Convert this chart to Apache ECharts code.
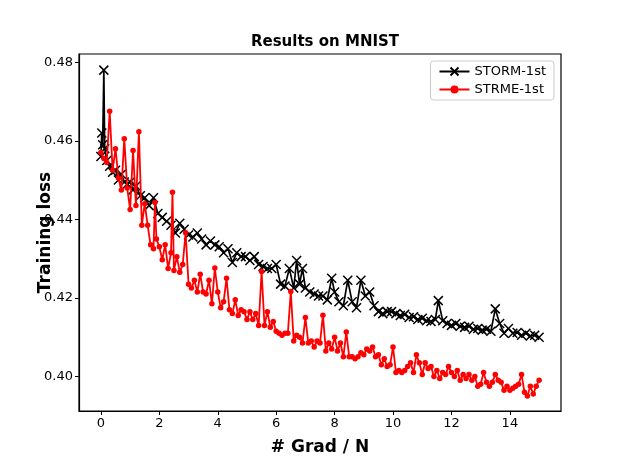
<!DOCTYPE html>
<html>
<head>
<meta charset="utf-8">
<script src="https://cdn.jsdelivr.net/npm/echarts@6/dist/echarts.min.js"></script>
<style>html,body{margin:0;padding:0;background:#fff;}#c{width:623px;height:464px;}</style>
</head>
<body>
<div id="c"></div>
<script>
const xTicks = [0, 2, 4, 6, 8, 10, 12, 14];
const yTicks = [0.40, 0.42, 0.44, 0.46, 0.48];

const stormX = [0,0.03,0.06,0.1,0.13,0.2,0.3,0.4,0.5,0.6,0.7,0.8,0.9,1.0,1.1,1.2,1.35,1.5,1.65,1.8,1.95,2.1,2.25,2.4,2.55,2.7,2.85,3.0,3.15,3.3,3.45,3.6,3.75,3.9,4.05,4.2,4.35,4.5,4.65,4.8,4.95,5.1,5.25,5.4,5.55,5.7,5.85,6.0,6.15,6.3,6.45,6.6,6.7,6.8,6.9,7.0,7.15,7.3,7.45,7.6,7.75,7.9,8.0,8.15,8.3,8.45,8.6,8.75,8.9,9.05,9.2,9.35,9.5,9.65,9.8,9.95,10.1,10.25,10.4,10.55,10.7,10.85,11.0,11.15,11.3,11.45,11.55,11.7,11.85,12.0,12.15,12.3,12.45,12.6,12.75,12.9,13.05,13.2,13.35,13.5,13.65,13.8,13.95,14.1,14.25,14.4,14.55,14.7,14.85,15.0];
const stormY = [0.456,0.462,0.459,0.478,0.458,0.455,0.4535,0.452,0.4525,0.450,0.4515,0.4495,0.449,0.4495,0.4475,0.4485,0.446,0.4455,0.4435,0.4455,0.4415,0.4405,0.4395,0.4385,0.4365,0.439,0.4375,0.436,0.4355,0.4365,0.435,0.4335,0.4345,0.4335,0.433,0.4315,0.4325,0.429,0.4315,0.4305,0.4305,0.4295,0.4305,0.4285,0.428,0.4275,0.4275,0.4285,0.4235,0.423,0.4275,0.4225,0.4295,0.4235,0.4275,0.4225,0.4215,0.421,0.4205,0.4205,0.4195,0.425,0.4215,0.419,0.418,0.4245,0.419,0.4175,0.4245,0.4205,0.4215,0.418,0.4165,0.416,0.4165,0.4165,0.416,0.4155,0.4158,0.415,0.4152,0.4145,0.4148,0.4142,0.414,0.4145,0.4193,0.4142,0.4135,0.413,0.4135,0.4128,0.4125,0.4128,0.412,0.4122,0.4118,0.412,0.4115,0.4172,0.4135,0.411,0.4122,0.411,0.4112,0.4105,0.411,0.4103,0.4105,0.410];

const strmeX = [0,0.1,0.2,0.3,0.4,0.5,0.6,0.7,0.8,0.9,1.0,1.1,1.2,1.3,1.4,1.5,1.6,1.7,1.8,1.85,1.9,2.0,2.1,2.2,2.3,2.4,2.45,2.5,2.6,2.7,2.8,2.9,3.0,3.1,3.2,3.3,3.4,3.5,3.6,3.7,3.8,3.9,4.0,4.1,4.2,4.3,4.4,4.5,4.6,4.7,4.8,4.9,5.0,5.1,5.2,5.3,5.4,5.5,5.6,5.7,5.8,5.9,6.0,6.1,6.2,6.3,6.4,6.5,6.6,6.7,6.8,6.9,7.0,7.1,7.2,7.3,7.4,7.5,7.6,7.7,7.8,7.9,8.0,8.1,8.2,8.3,8.4,8.5,8.6,8.7,8.8,8.9,9.0,9.1,9.2,9.3,9.4,9.5,9.6,9.7,9.8,9.9,10.0,10.1,10.2,10.3,10.4,10.5,10.6,10.7,10.8,10.9,11.0,11.1,11.2,11.3,11.4,11.5,11.6,11.7,11.8,11.9,12.0,12.1,12.2,12.3,12.4,12.5,12.6,12.7,12.8,12.9,13.0,13.1,13.2,13.3,13.4,13.5,13.6,13.7,13.8,13.9,14.0,14.1,14.2,14.3,14.4,14.5,14.6,14.7,14.8,14.9,15.0];
const strmeY = [0.457,0.4555,0.4545,0.4675,0.4525,0.458,0.4505,0.4475,0.4605,0.448,0.4425,0.4575,0.4435,0.4623,0.4385,0.444,0.4385,0.4335,0.4325,0.4443,0.435,0.433,0.4297,0.4335,0.4275,0.4315,0.4469,0.427,0.4305,0.4265,0.4285,0.4366,0.4235,0.4225,0.4245,0.4215,0.426,0.4215,0.421,0.4245,0.4185,0.4276,0.4215,0.4175,0.419,0.425,0.417,0.416,0.4195,0.4155,0.417,0.4165,0.4145,0.4165,0.4145,0.416,0.413,0.4267,0.413,0.4165,0.4125,0.414,0.4115,0.411,0.4105,0.411,0.411,0.4216,0.409,0.4105,0.410,0.4085,0.415,0.4085,0.409,0.4075,0.409,0.4085,0.4156,0.4065,0.4085,0.407,0.410,0.4065,0.4085,0.405,0.4113,0.405,0.405,0.4045,0.405,0.406,0.4055,0.407,0.4065,0.4075,0.405,0.4055,0.403,0.4045,0.4025,0.403,0.4075,0.401,0.4015,0.401,0.4015,0.4025,0.4035,0.401,0.4055,0.4035,0.4005,0.4035,0.402,0.4025,0.400,0.4015,0.3995,0.401,0.4005,0.4025,0.401,0.400,0.4015,0.399,0.4005,0.3995,0.4005,0.399,0.400,0.3975,0.398,0.401,0.3985,0.3975,0.3985,0.4005,0.399,0.3985,0.3965,0.3975,0.3965,0.397,0.3975,0.398,0.4005,0.396,0.395,0.3975,0.3955,0.3975,0.399];

const pair = (xs, ys) => xs.map((x, i) => [x, ys[i]]);
const FONT = 'DejaVu Sans';

const chart = echarts.init(document.getElementById('c'), null, {renderer: 'canvas'});
chart.setOption({
  animation: false,
  backgroundColor: '#fff',
  title: {
    text: 'Results on MNIST', left: 320, top: 30, textAlign: 'center',
    textStyle: {fontFamily: FONT, fontWeight: 'bold', fontSize: 15, color: '#000'}
  },
  grid: {left: 79, right: 62, top: 54, bottom: 53, show: true, borderColor: '#000', borderWidth: 1.2, backgroundColor: 'transparent'},
  legend: {
    right: 69, top: 61, orient: 'vertical', itemGap: 5, itemWidth: 30, itemHeight: 10,
    backgroundColor: '#fff', borderColor: '#ccc', borderWidth: 1, borderRadius: 3, padding: [4, 8, 4, 8],
    textStyle: {fontFamily: FONT, fontSize: 13, color: '#000'},
    data: ['STORM-1st', 'STRME-1st']
  },
  xAxis: {
    type: 'value', min: -0.75, max: 15.75,
    name: '# Grad / N', nameLocation: 'middle', nameGap: 28,
    nameTextStyle: {fontFamily: FONT, fontWeight: 'bold', fontSize: 17, color: '#000'},
    axisLine: {show: true, onZero: false, lineStyle: {color: '#000', width: 1.2}},
    axisTick: {show: true, inside: false, length: 4, lineStyle: {color: '#000'}, customValues: xTicks},
    axisLabel: {fontFamily: FONT, fontSize: 13, color: '#000', margin: 6, customValues: xTicks, formatter: v => String(v)},
    splitLine: {show: false}
  },
  yAxis: {
    type: 'value', min: 0.3912, max: 0.4821,
    name: 'Training loss', nameLocation: 'middle', nameGap: 25, nameMoveOverlap: false,
    nameTextStyle: {fontFamily: FONT, fontWeight: 'bold', fontSize: 17, color: '#000'},
    axisLine: {show: true, onZero: false, lineStyle: {color: '#000', width: 1.2}},
    axisTick: {show: true, inside: false, length: 4, lineStyle: {color: '#000'}, customValues: yTicks},
    axisLabel: {fontFamily: FONT, fontSize: 13, color: '#000', margin: 6, customValues: yTicks, formatter: v => v.toFixed(2)},
    splitLine: {show: false}
  },
  series: [
    {
      name: 'STORM-1st', type: 'line', data: pair(stormX, stormY),
      symbol: 'path://M0,0L10,10M10,0L0,10', symbolSize: 9, showAllSymbol: true,
      lineStyle: {color: '#000', width: 1.7},
      itemStyle: {color: '#000', borderColor: '#000', borderWidth: 1.5},
      z: 3
    },
    {
      name: 'STRME-1st', type: 'line', data: pair(strmeX, strmeY),
      symbol: 'circle', symbolSize: 5.5, showAllSymbol: true,
      lineStyle: {color: '#ff0000', width: 1.8},
      itemStyle: {color: '#ff0000', borderWidth: 0},
      z: 4
    }
  ]
});
</script>
</body>
</html>
